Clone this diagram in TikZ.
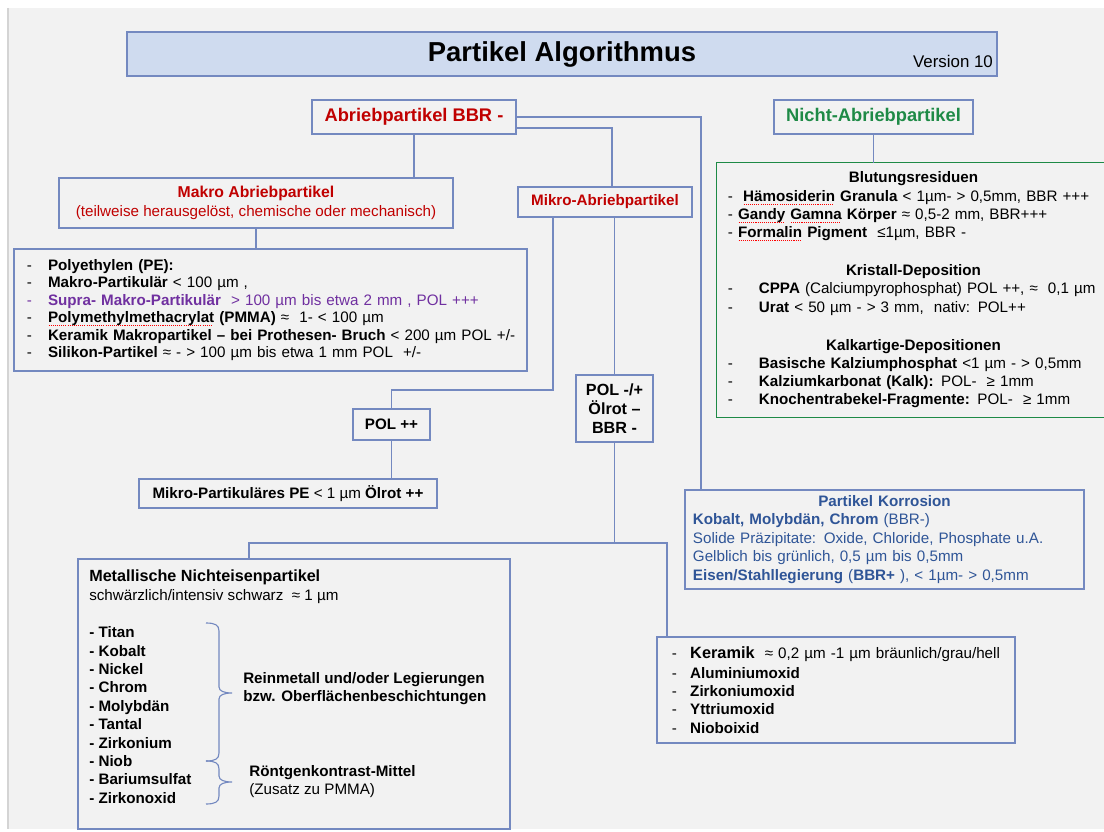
\documentclass[tikz,border=0pt]{standalone}
\usepackage{fontspec}
\setmainfont{Liberation Sans}
\usetikzlibrary{decorations.pathreplacing}

\definecolor{pagegray}{HTML}{F2F2F2}
\definecolor{edgegray}{HTML}{D4D4D4}
\definecolor{lineblue}{HTML}{7489C0}
\definecolor{titlefill}{HTML}{CFDBEF}
\definecolor{abred}{HTML}{C00000}
\definecolor{nagreen}{HTML}{1E8A46}
\definecolor{supra}{HTML}{7030A0}
\definecolor{korrblue}{HTML}{2F5597}

\newsavebox\spellbox
\newcommand\spellmark[1]{\sbox\spellbox{#1}\rlap{\raisebox{-2.6pt}{\color{red}%
  \leaders\hbox to 1.5pt{\hss\vrule width 0.75pt height 0.6pt\hss}\hskip\wd\spellbox}}\usebox\spellbox}
\newcommand\dsh{\makebox[15pt][l]{-}}
\newcommand\bodyfont{\fontsize{10.8}{13}\selectfont}

\begin{document}
\begin{tikzpicture}[x=0.025cm, y=-0.025cm,
    box/.style={draw=lineblue, line width=0.9pt, fill=pagegray, inner sep=0pt,
                align=center, font=\bodyfont},
    listbox/.style={box, align=left, inner ysep=0pt},
    conn/.style={draw=lineblue, line width=0.85pt},
    headred/.style={box, font=\fontsize{13}{15}\selectfont\bfseries, text=abred},
    plain/.style={inner sep=0pt, align=left, font=\bodyfont}]
  \useasboundingbox (0,0) rectangle (1104,832);
  \fill[white] (0,0) rectangle (1104,832);
  \fill[pagegray] (8,8) rectangle (1104,829);
  \draw[edgegray, line width=1pt] (8,8) -- (8,829);

  \node[box, fill=titlefill, minimum width=21.75cm, minimum height=1.1cm,
        font=\fontsize{19.5}{22}\selectfont\bfseries] (title) at (562,54) {Partikel Algorithmus};
  \node[plain, font=\fontsize{12}{14}\selectfont] (ver) at (953,61) {Version 10};

  \node[headred, minimum width=5.1cm, minimum height=0.85cm] (abrieb) at (414,117) {Abriebpartikel BBR -};
  \node[headred, text=nagreen, minimum width=4.975cm, minimum height=0.85cm] (nicht) at (873.5,117) {Nicht-Abriebpartikel};

  \node[box, text=abred, minimum width=9.85cm, minimum height=1.25cm, font=\fontsize{10.8}{13.5}\selectfont] (makro) at (256,203)
    {{\fontsize{11.2}{13.5}\selectfont\bfseries Makro Abriebpartikel}\\(teilweise herausgelöst, chemische oder mechanisch)};
  \node[box, text=abred, minimum width=4.35cm, minimum height=0.75cm, font=\bodyfont\bfseries] (mikro) at (605,202) {Mikro-Abriebpartikel};

  \node[listbox, minimum width=12.825cm, minimum height=3.05cm, inner xsep=0.325cm, text width=12.175cm,
        font=\fontsize{10.8}{12.4}\selectfont] (pe) at (270.5,310)
    {\dsh\textbf{Polyethylen (PE):}\\
     \dsh\textbf{Makro-Partikulär} < 100 µm ,\\
     \mbox{\color{supra}\dsh\textbf{Supra- Makro-Partikulär}\ \ > 100 µm bis etwa 2 mm , POL +++}\\
     \mbox{\dsh\textbf{\spellmark{Polymethylmethacrylat} (PMMA)} ≈\ \ 1- < 100 µm}\\
     \mbox{\dsh\textbf{Keramik Makropartikel – bei Prothesen- Bruch} < 200 µm POL +/-}\\
     \mbox{\dsh\textbf{Silikon-Partikel} ≈ - > 100 µm bis etwa 1 mm POL\ \ +/-}};

  \node[box, minimum width=1.925cm, minimum height=0.775cm, font=\bodyfont\bfseries] (polpp) at (391.5,424.5) {POL ++};
  \node[box, minimum width=7.45cm, minimum height=0.725cm] (mpe) at (288,493.5)
    {\textbf{Mikro-Partikuläres PE} < 1 µm \textbf{Ölrot ++}};
  \node[box, minimum width=1.925cm, minimum height=1.675cm, font=\fontsize{11.5}{13.5}\selectfont\bfseries] (polm) at (614.5,408.5)
    {POL -/+\\Ölrot –\\BBR -};

  \node[listbox, draw=none, minimum width=9.825cm, minimum height=6.325cm, inner xsep=0.275cm, text width=9.275cm] (blut) at (913.5,290)
    {\makebox[\hsize]{\textbf{Blutungsresiduen}}\\
     \mbox{-\ \ \textbf{\spellmark{Hämosiderin} Granula} < 1µm- > 0,5mm, BBR +++}\\
     \mbox{- \textbf{\spellmark{Gandy} \spellmark{Gamna} Körper} ≈ 0,5-2 mm, BBR+++}\\
     - \textbf{\spellmark{Formalin} Pigment}\ \ ≤1µm, BBR -\\[14pt]
     \makebox[\hsize]{\textbf{Kristall-Deposition}}\\
     \mbox{\makebox[22pt][l]{-}\textbf{CPPA} (Calciumpyrophosphat) POL ++, ≈\ \ 0,1 µm}\\
     \makebox[22pt][l]{-}\textbf{Urat} < 50 µm - > 3 mm,\ \ nativ: POL++\\[14pt]
     \makebox[\hsize]{\textbf{Kalkartige-Depositionen}}\\
     \makebox[22pt][l]{-}\textbf{Basische Kalziumphosphat} <1 µm - > 0,5mm\\
     \makebox[22pt][l]{-}\textbf{Kalziumkarbonat (Kalk):} POL-\ \ ≥ 1mm\\
     \makebox[22pt][l]{-}\textbf{Knochentrabekel-Fragmente:} POL-\ \ ≥ 1mm};
  \draw[nagreen, line width=0.9pt] ([xshift=1cm]blut.north east) -- (blut.north west)
    -- (blut.south west) -- ([xshift=1cm]blut.south east);

  \node[listbox, text=korrblue, minimum width=9.975cm, minimum height=2.475cm, inner xsep=0.2cm, text width=9.575cm,
        font=\fontsize{10.8}{13.2}\selectfont] (korr) at (884.5,539.5)
    {\makebox[\hsize]{\textbf{Partikel Korrosion}}\\
     \textbf{Kobalt, Molybdän, Chrom} (BBR-)\\
     Solide Präzipitate: Oxide, Chloride, Phosphate u.A.\\
     Gelblich bis grünlich, 0,5 µm bis 0,5mm\\
     \textbf{Eisen/Stahllegierung} (\textbf{BBR+} ), < 1µm- > 0,5mm};

  \node[listbox, minimum width=8.95cm, minimum height=2.65cm, inner xsep=0.375cm, text width=8.2cm] (keram) at (836,690)
    {\mbox{\makebox[13pt][l]{-}{\fontsize{11.6}{14}\selectfont\textbf{Keramik}}\ \ ≈ 0,2 µm -1 µm bräunlich/grau/hell}\\[1pt]
     \makebox[13pt][l]{-}\textbf{Aluminiumoxid}\\
     \makebox[13pt][l]{-}\textbf{Zirkoniumoxid}\\
     \makebox[13pt][l]{-}\textbf{Yttriumoxid}\\
     \makebox[13pt][l]{-}\textbf{Nioboixid}};

  \node[box, minimum width=10.8cm, minimum height=6.75cm] (metal) at (294,694) {};
  \node[plain, anchor=north west, font=\fontsize{10.8}{13.2}\selectfont] (metalhd) at (89,570)
    {{\fontsize{11.5}{13}\selectfont\bfseries Metallische Nichteisenpartikel}\\
     schwärzlich/intensiv schwarz\ \ ≈ 1 µm};
  \node[plain, anchor=north west, font=\fontsize{10.8}{13.07}\selectfont\bfseries] (metlist) at (89,626.5)
    {- Titan\\- Kobalt\\- Nickel\\- Chrom\\- Molybdän\\- Tantal\\- Zirkonium\\- Niob\\- Bariumsulfat\\- Zirkonoxid};
  \node[plain, anchor=north west, font=\fontsize{10.8}{12.8}\selectfont\bfseries] (rein) at (243,672)
    {Reinmetall und/oder Legierungen\\bzw. Oberflächenbeschichtungen};
  \node[plain, anchor=north west, font=\fontsize{10.8}{12.8}\selectfont] (roent) at (249,765)
    {\textbf{Röntgenkontrast-Mittel}\\(Zusatz zu PMMA)};
  \foreach \top/\tip/\bot in {623/693/761, 761/782/804}
    \draw[conn, line width=0.8pt] (206,\top) .. controls (215,\top) and (219,\top+2) .. (219,\top+8)
      -- (219,\tip-6) .. controls (219,\tip-2) and (224,\tip) .. (232,\tip)
      .. controls (224,\tip) and (219,\tip+2) .. (219,\tip+6)
      -- (219,\bot-8) .. controls (219,\bot-2) and (215,\bot) .. (206,\bot);

  \draw[conn] (abrieb.south) -- (abrieb.south |- makro.north);
  \draw[conn] (abrieb.east |- 0,117) -| (korr.north -| 701,0);
  \draw[conn] (abrieb.east |- 0,128) -| (mikro.north -| 612,0);
  \draw[conn] (nicht.south) -- (nicht.south |- blut.north);
  \draw[conn] (makro.south) -- (makro.south |- pe.north);
  \draw[conn] (mikro.south -| 553,0) |- (polpp.north |- 0,390) -- (polpp.north);
  \draw[conn] (polm.north |- mikro.south) -- (polm.north);
  \draw[conn] (polpp.south) -- (polpp.south |- mpe.north);
  \coordinate (split) at (polm.south |- 0,543);
  \draw[conn] (polm.south) -- (split) -| (metal.north -| 249,0);
  \draw[conn] (split) -| (keram.north -| 667,0);
\end{tikzpicture}
\end{document}
